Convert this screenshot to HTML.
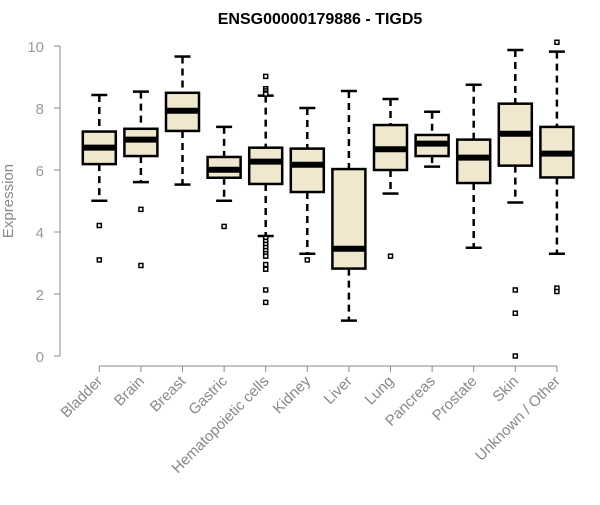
<!DOCTYPE html>
<html><head><meta charset="utf-8"><style>
body{margin:0;background:#fff;font-family:"Liberation Sans",sans-serif}
</style></head><body>
<svg id="chart" width="600" height="500" xmlns="http://www.w3.org/2000/svg">
<text x="320" y="24" text-anchor="middle" font-size="16" font-weight="bold" font-family="Liberation Sans, sans-serif">ENSG00000179886 - TIGD5</text>
<text transform="translate(13,201) rotate(-90)" text-anchor="middle" font-size="15" fill="#888" font-family="Liberation Sans, sans-serif">Expression</text>
<g id="plot"></g>
</svg>
<script>
const categories=["Bladder","Brain","Breast","Gastric","Hematopoietic cells","Kidney","Liver","Lung","Pancreas","Prostate","Skin","Unknown / Other"];
const whiskerHigh=[8.42,8.53,9.66,7.39,8.40,8.0,8.55,8.29,7.88,8.75,9.87,9.82];
const q3=[7.24,7.33,8.49,6.42,6.72,6.69,6.03,7.45,7.13,6.98,8.14,7.39];
const median=[6.72,6.98,7.91,6.01,6.27,6.17,3.46,6.67,6.85,6.40,7.17,6.53];
const q1=[6.19,6.45,7.26,5.75,5.55,5.29,2.82,6.0,6.45,5.58,6.14,5.76];
const whiskerLow=[5.01,5.61,5.53,5.01,3.87,3.30,1.14,5.24,6.11,3.49,4.95,3.30];
const outliers=[[4.21,3.10],[4.73,2.92],[],[4.18],[9.02,8.62,8.55,8.48,8.45,3.80,3.70,3.6,3.5,3.4,3.3,3.22,2.95,2.8,2.13,1.73],[3.10],[],[3.22],[],[],[2.13,1.38,0],[10.12,2.19,2.08]];
const yTicks=[0,2,4,6,8,10];
const NS="http://www.w3.org/2000/svg";
const g=document.getElementById('plot');
const yS=v=>356-v*31;
const xS=i=>99.3+41.6*i;
function mk(t,a){const e=document.createElementNS(NS,t);for(const k in a)e.setAttribute(k,a[k]);g.appendChild(e);return e;}
let ax=mk('line',{x1:60,x2:60,y1:yS(10),y2:yS(0),stroke:'#888','stroke-width':1});


yTicks.forEach(v=>{
 let t=mk('line',{x1:54,x2:60,y1:yS(v),y2:yS(v),stroke:'#888'});
 
 
 let l=mk('text',{x:44,y:yS(v)+6,'text-anchor':'end','font-size':15,fill:'#999','font-family':'Liberation Sans, sans-serif'});
 l.textContent=v;
 
 
});
let xa=mk('line',{x1:xS(0),x2:xS(categories.length-1),y1:366,y2:366,stroke:'#888'});


categories.forEach((c,i)=>{
 const x=xS(i);
 let t=mk('line',{x1:x,x2:x,y1:366,y2:372,stroke:'#888'});
 
 
 let l=mk('text',{transform:`translate(${x+4},${382}) rotate(-45)`,'text-anchor':'end','font-size':15,fill:'#888','font-family':'Liberation Sans, sans-serif'});
 l.textContent=c;
 
 
 let w1=mk('line',{x1:x,x2:x,y1:yS(whiskerHigh[i]),y2:yS(q3[i]),stroke:'#000','stroke-width':2.5,'stroke-dasharray':'7,5'});
 
 
 let w2=mk('line',{x1:x,x2:x,y1:yS(q1[i]),y2:yS(whiskerLow[i]),stroke:'#000','stroke-width':2.5,'stroke-dasharray':'7,5'});
 
 
 [whiskerHigh[i],whiskerLow[i]].forEach(v=>{
  let cap=mk('line',{x1:x-8,x2:x+8,y1:yS(v),y2:yS(v),stroke:'#000','stroke-width':2.5});
  
  
 });
 let b=mk('rect',{x:x-16.5,y:yS(q3[i]),width:33,height:yS(q1[i])-yS(q3[i]),fill:'#efe8cf',stroke:'#000','stroke-width':2.5});
 
 
 let m=mk('line',{x1:x-16.5,x2:x+16.5,y1:yS(median[i]),y2:yS(median[i]),stroke:'#000','stroke-width':6});
 
 
 outliers[i].forEach(v=>{
  let o=mk('rect',{x:x-2,y:yS(v)-2,width:4,height:4,fill:'#fff',stroke:'#000','stroke-width':1.5});
  
  
 });
});
</script>
</body></html>
